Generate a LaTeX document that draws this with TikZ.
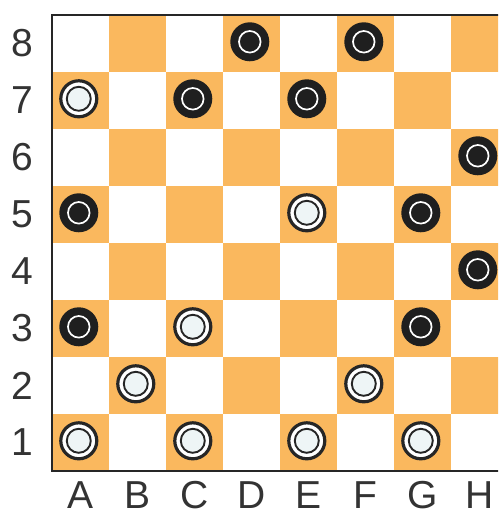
\documentclass[tikz,border=0pt]{standalone}
\usepackage{fontspec}
\setmainfont{Liberation Sans}

\definecolor{boardorange}{RGB}{250,184,94}
\definecolor{piecelight}{RGB}{238,245,246}

\begin{document}
\begin{tikzpicture}[
    x=57pt, y=57pt,
    dark/.style={fill=boardorange},
    frame/.style={draw=black!85, line width=2pt},
    coord/.style={font=\fontsize{39}{39}\selectfont, text=black!80, inner sep=0pt},
    blackman/.style={
        circle,
        fill=black!88,
        minimum size=39pt,
        inner sep=0pt,
        path picture={\draw[white, line width=1.7pt]
            (path picture bounding box.center) circle (10.8pt);}
    },
    whiteman/.style={
        circle,
        draw=black!85,
        line width=3.2pt,
        fill=white,
        minimum size=36pt,
        inner sep=0pt,
        path picture={\draw[black!85, fill=piecelight, line width=1.9pt]
            (path picture bounding box.center) circle (12pt);}
    }
]

    \clip (-0.912,-0.754) rectangle (7.825,8.263);

    %------------------------------------------------
    % board
    %------------------------------------------------
    \fill[white] (0,0) rectangle (8,8);
    \foreach \c in {0,...,7}
        \foreach \r in {1,...,8}{
            \pgfmathtruncatemacro{\s}{mod(\c+\r,2)}
            \ifnum\s=1 \fill[dark] (\c,\r-1) rectangle ++(1,1); \fi
        }
    \draw[frame] (0,0) rectangle (8,8);

    %------------------------------------------------
    % coordinates
    %------------------------------------------------
    \foreach \r in {1,...,8}
        \node[coord] (rank\r) at (-0.526,\r-0.5) {\r};
    \foreach \f [count=\i from 0] in {A,B,C,D,E,F,G,H}
        \node[coord] (file\f) at (\i+0.5,-0.43) {\f};

    %------------------------------------------------
    % pieces
    %------------------------------------------------
    \foreach \sq/\c/\r in {d8/3/8, f8/5/8, c7/2/7, e7/4/7, h6/7/6,
                           a5/0/5, g5/6/5, h4/7/4, a3/0/3, g3/6/3}
        \node[blackman] (\sq) at (\c+0.47,\r-0.47) {};

    \foreach \sq/\c/\r in {a7/0/7, e5/4/5, c3/2/3, b2/1/2, f2/5/2,
                           a1/0/1, c1/2/1, e1/4/1, g1/6/1}
        \node[whiteman] (\sq) at (\c+0.47,\r-0.47) {};

\end{tikzpicture}
\end{document}
